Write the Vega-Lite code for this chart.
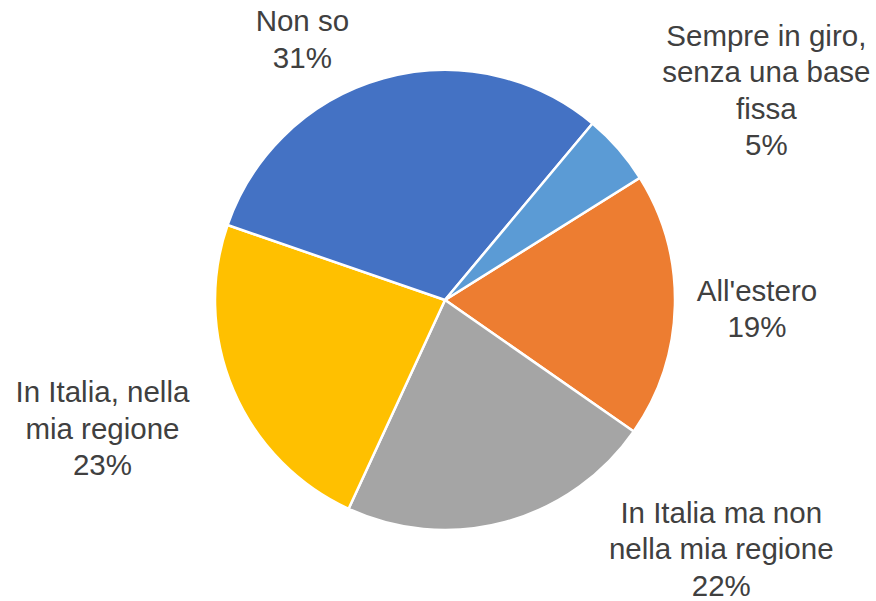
{
  "$schema": "https://vega.github.io/schema/vega-lite/v6.json",
  "width": 862,
  "height": 600,
  "padding": {"left": 14, "top": 0, "right": 0, "bottom": 1},
  "autosize": "none",
  "background": "white",
  "view": {"stroke": null},
  "data": {
    "values": [
      {"category": "All'estero", "value": 18.6, "label": "All'estero\n19%"},
      {"category": "In Italia ma non nella mia regione", "value": 22.2, "label": "In Italia ma non\nnella mia regione\n22%"},
      {"category": "In Italia, nella mia regione", "value": 23.4, "label": "In Italia, nella\nmia regione\n23%"},
      {"category": "Non so", "value": 30.8, "label": "Non so\n31%"},
      {"category": "Sempre in giro, senza una base fissa", "value": 5.0, "label": "Sempre in giro,\nsenza una base\nfissa\n5%"}
    ]
  },
  "encoding": {
    "theta": {"field": "value", "type": "quantitative", "stack": true, "scale": {"range": [1.0105, 7.2937]}},
    "order": {"field": "category", "sort": "ascending"}
  },
  "layer": [
    {
      "mark": {"type": "arc", "outerRadius": 230, "stroke": "white", "strokeWidth": 2.5},
      "encoding": {
        "color": {
          "field": "category",
          "type": "nominal",
          "legend": null,
          "scale": {
            "domain": ["All'estero", "In Italia ma non nella mia regione", "In Italia, nella mia regione", "Non so", "Sempre in giro, senza una base fissa"],
            "range": ["#ED7D31", "#A5A5A5", "#FFC000", "#4472C4", "#5B9BD5"]
          }
        }
      }
    },
    {
      "mark": {
        "type": "text",
        "font": "Liberation Sans",
        "fontSize": 29.5,
        "lineHeight": 36.5,
        "lineBreak": "\n",
        "color": "#404040",
        "align": "center",
        "baseline": "middle",
        "dx": {"expr": "datum.category == 'Non so' ? -81 : datum.category == 'All\\'estero' ? 82 : datum.category == 'In Italia ma non nella mia regione' ? 216 : datum.category == 'In Italia, nella mia regione' ? -131 : 148"},
        "dy": {"expr": "datum.category == 'Non so' ? -56 : datum.category == 'All\\'estero' ? -14 : datum.category == 'In Italia ma non nella mia regione' ? -8 : datum.category == 'In Italia, nella mia regione' ? 3 : -112"}
      },
      "encoding": {
        "radius": {"value": 230},
        "text": {"field": "label", "type": "nominal"}
      }
    }
  ]
}
